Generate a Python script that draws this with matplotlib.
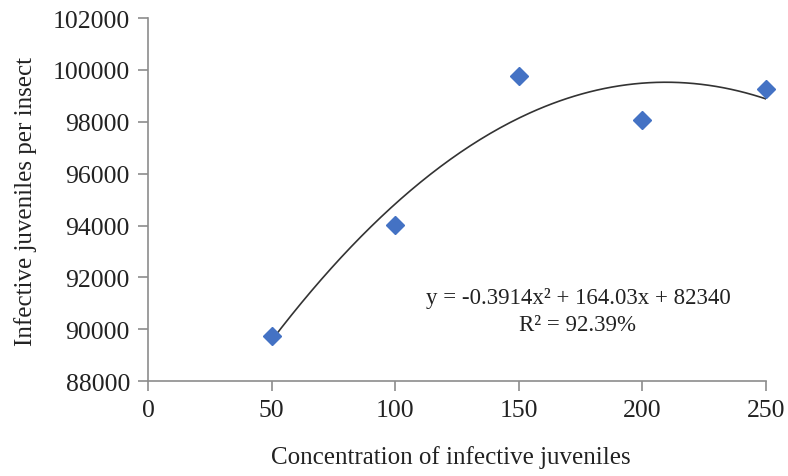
import numpy as np
import matplotlib
matplotlib.use('Agg')
import matplotlib.pyplot as plt

# datos
concentracion = [50, 100, 150, 200, 250]
juveniles = [89720, 94010, 99750, 98080, 99250]

# coeficientes de la linea de tendencia (polinomio de grado 2)
coef = [-0.3914, 164.03, 82340]
r2 = 92.39

plt.rcParams['font.family'] = ['Liberation Serif', 'DejaVu Serif']

fig = plt.figure(figsize=(7.88, 4.77), dpi=100)
ax = fig.add_axes([0.1878, 0.199, 0.784, 0.761])

x_tend = np.linspace(min(concentracion), max(concentracion), 200)
y_tend = np.polyval(coef, x_tend)
ax.plot(x_tend, y_tend, color='#333333', linewidth=1.2)

ax.plot(concentracion, juveniles, 'D', color='#4472C4', markersize=9,
        markeredgecolor='#4472C4', clip_on=False, zorder=3)

ax.set_xlim(0, 250)
ax.set_ylim(88000, 102000)
ax.set_xticks([0, 50, 100, 150, 200, 250])
ax.set_yticks(np.arange(88000, 102001, 2000))

for s in ['top', 'right']:
    ax.spines[s].set_visible(False)
for s in ['left', 'bottom']:
    ax.spines[s].set_color('#8c8c8c')
    ax.spines[s].set_linewidth(1.2)

ax.tick_params(direction='out', length=7, width=1.2, color='#8c8c8c',
               labelsize=18.5, labelcolor='#222222', pad=6)

# etiqueta del eje x, un poco mas arriba para que no se corte
fig.text(0.572, 0.016, 'Concentration of infective juveniles', fontsize=18,
         ha='center', va='bottom', color='#222222')
fig.text(0.032, 0.578, 'Infective juveniles per insect', fontsize=18,
         ha='center', va='center', rotation=90, color='#222222')

eq = 'y = %.4fx² + %.2fx + %d' % (coef[0], coef[1], coef[2])
ax.text(0.696, 0.231, eq, transform=ax.transAxes, fontsize=16.5,
        ha='center', va='center', color='#222222')
ax.text(0.696, 0.157, 'R² = %.2f%%' % r2, transform=ax.transAxes, fontsize=16.5,
        ha='center', va='center', color='#222222')

fig.savefig('out.png', dpi=100)
